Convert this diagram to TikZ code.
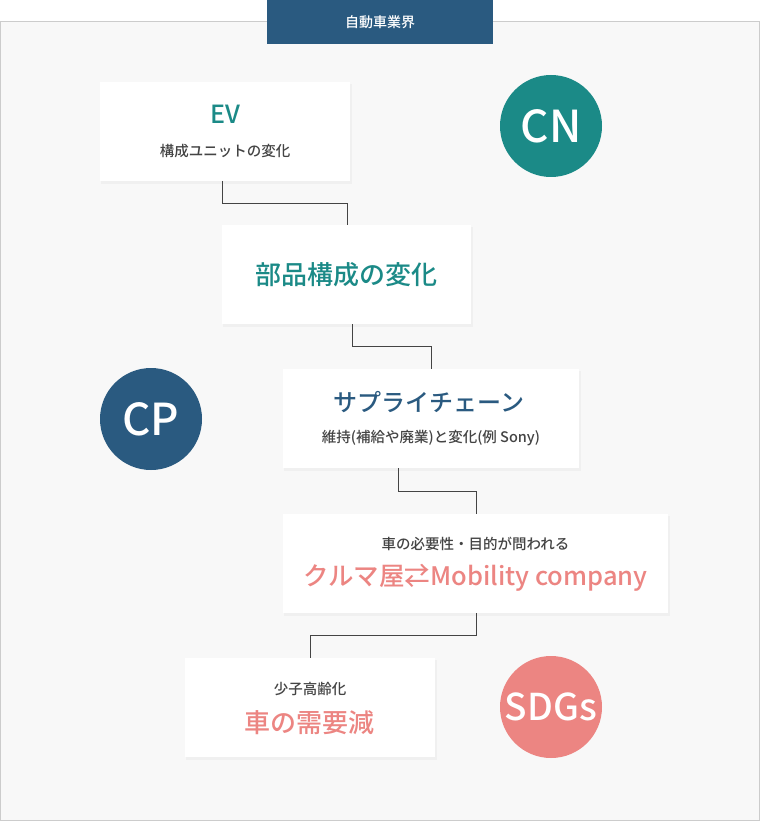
\documentclass[tikz,border=0pt]{standalone}
\usepackage{fontspec}
\setmainfont{Noto Sans CJK JP Medium}
\definecolor{teal1}{HTML}{1B8A87}
\definecolor{navy1}{HTML}{2A5A80}
\definecolor{sal1}{HTML}{EC8582}
\definecolor{txt1}{HTML}{444444}
\definecolor{bg1}{HTML}{F8F8F8}
\definecolor{frm}{HTML}{CCCCCC}
\begin{document}
\begin{tikzpicture}[x=1pt,y=-1pt,
  small/.style={font=\fontsize{14.5}{16}\selectfont,text=txt1},
  circ/.style={circle,minimum size=102pt,inner sep=0pt,text=white,font=\fontsize{44}{46}\selectfont},
  conn/.style={draw=txt1,line width=0.6pt}]
\useasboundingbox (0,0) rectangle (760,821);
\fill[bg1,draw=frm] (0.5,21) rectangle (759.5,820.5);
\node[fill=navy1,minimum width=226pt,minimum height=44pt,inner sep=0pt,text=white,font=\fontsize{14}{16}\selectfont] (tab) at (380,22) {自動車業界};
\foreach \a/\b/\c/\d in {100/82/350/181,222/225/471/324,283/369/579/468,283/514/668/613,185/658/435/757}{
  \fill[black!6] (\a+1,\b+2) rectangle (\c+2,\d+3);
  \fill[white] (\a,\b) rectangle (\c,\d);}
\node[text=teal1,font=\fontsize{25}{28}\selectfont] (ev) at (225,114) {EV};
\node[small] (evs) at (225,151) {構成ユニットの変化};
\node[text=teal1,font=\fontsize{26}{28}\selectfont] (parts) at (346.5,274.5) {部品構成の変化};
\node[text=navy1,font=\fontsize{24}{26}\selectfont] (sc) at (429,402) {サプライチェーン};
\node[small] (scs) at (431,438) {維持(補給や廃業)と変化(例 Sony)};
\node[small] (need) at (475.5,544) {車の必要性・目的が問われる};
\node[text=sal1,font=\fontsize{25.5}{28}\selectfont] (mob) at (475.5,578) {クルマ屋⇄Mobility company};
\node[small] (aging) at (310,689) {少子高齢化};
\node[text=sal1,font=\fontsize{26}{28}\selectfont] (dem) at (309,723) {車の需要減};
\node[circ,fill=teal1] (cn) at (551,126) {CN};
\node[circ,fill=navy1] (cp) at (151,419) {CP};
\node[circ,fill=sal1,font=\fontsize{37}{39}\selectfont] (sdg) at (551,707) {SDGs};
\coordinate (c1) at (222,181); \coordinate (c2) at (347,225);
\coordinate (c3) at (352,324); \coordinate (c4) at (431,369);
\coordinate (c5) at (398,468); \coordinate (c6) at (476,514);
\coordinate (c7) at (476,613); \coordinate (c8) at (310,658);
\draw[conn] (c1) -- (222,203) -| (c2);
\draw[conn] (c3) -- (352,346) -| (c4);
\draw[conn] (c5) -- (398,491) -| (c6);
\draw[conn] (c7) -- (476,635) -| (c8);
\end{tikzpicture}
\end{document}
